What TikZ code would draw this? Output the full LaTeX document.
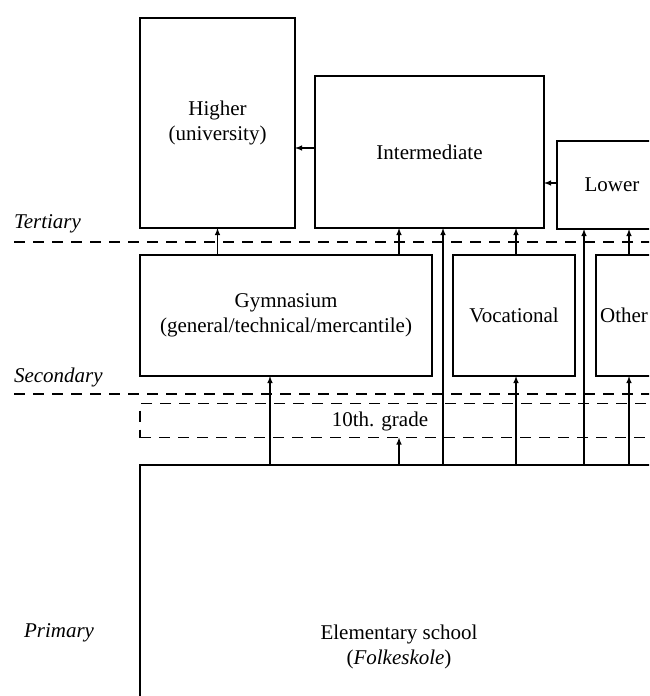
\documentclass[tikz,border=0pt]{standalone}
\usepackage{fontspec}
\setmainfont{Liberation Serif}
\begin{document}
\begin{tikzpicture}[x=1pt, y=-1pt]
\tikzset{ >=latex, inner sep=0pt, outer sep=0pt,
  box/.style={draw, line width=1.6pt, align=center},
  level/.style={dashed, dash pattern=on 11pt off 8pt, line width=1.8pt},
  lab/.style={anchor=west, font=\itshape},
  up/.style={->, line width=1.4pt},
}
\fontsize{21}{25}\selectfont

\useasboundingbox (0,0) rectangle (649,696);
\clip (0,0) rectangle (649,696);

% niveis
\node [lab] (T) at (14,224) {Tertiary};
\node [lab] (S) at (14,377) {Secondary};
\node [lab] (P) at (24,633) {Primary};
\draw [level] (14,242) -- (660,242);
\draw [level] (14,394) -- (660,394);

% tertiary
\node [box, minimum width=155, minimum height=210] (Hi) at (217.5,123) {Higher\\(university)};
\node [box, minimum width=229, minimum height=152] (In) at (429.5,152) {Intermediate};
\node [box, minimum width=110, minimum height=88] (Lo) at (612,185) {Lower};

% secondary
\node [box, minimum width=292, minimum height=121] (Gy) at (286,315.5) {Gymnasium\\(general/technical/mercantile)};
\node [box, minimum width=122, minimum height=121] (Vo) at (514,315.5) {Vocational};
\node [box, minimum width=56, minimum height=121] (Ot) at (624,315.5) {Other};

% 10th. grade
\node [draw, dashed, dash pattern=on 11pt off 8pt, line width=1.5pt, minimum width=540, minimum height=34] (G) at (410,420.5) {};
\node (g) at (380,421) {10th. grade};

% primary
\node [box, minimum width=518, minimum height=364] (E) at (399,647) {Elementary school\\(\textit{Folkeskole})};

% colunas
\coordinate (c1) at (270,0);
\coordinate (c2) at (399,0);
\coordinate (c3) at (443,0);
\coordinate (c4) at (516,0);
\coordinate (c5) at (584,0);
\coordinate (c6) at (629,0);

% setas
\draw [up] (In.west |- 0,148) -- (Hi.east |- 0,148);
\draw [up] (Lo.west |- 0,183) -- (In.east |- 0,183);

\draw [up] (Gy.north -| Hi.south) -- (Hi.south);
\draw [up] (Gy.north -| c2) -- (In.south -| c2);
\draw [up] (E.north -| c3)  -- (In.south -| c3);
\draw [up] (Vo.north -| c4) -- (In.south -| c4);
\draw [up] (E.north -| c5)  -- (Lo.south -| c5);
\draw [up] (Ot.north -| c6) -- (Lo.south -| c6);

\draw [up] (E.north -| c1) -- (Gy.south -| c1);
\draw [up] (E.north -| c2) -- (G.south -| c2);
\draw [up] (E.north -| c4) -- (Vo.south -| c4);
\draw [up] (E.north -| c6) -- (Ot.south -| c6);

\end{tikzpicture}
\end{document}
